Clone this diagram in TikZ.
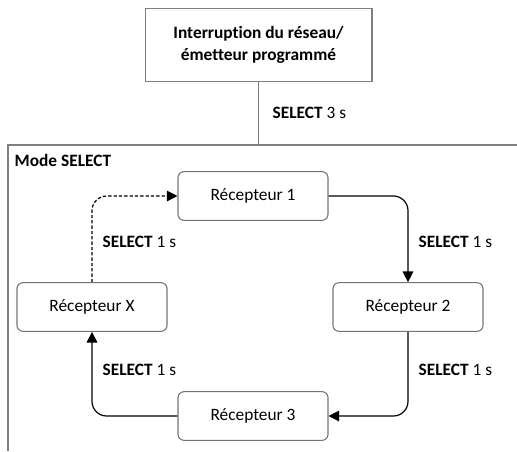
\documentclass[tikz,border=0pt]{standalone}
\usepackage{fontspec}
\setmainfont{Carlito}[Ligatures=NoCommon]
\usetikzlibrary{arrows.meta}
\begin{document}
\begin{tikzpicture}[x=0.75pt, y=-0.75pt,
  recbox/.style={draw=black!55, line width=0.8pt, rounded corners=4.5pt, minimum width=112.5pt, minimum height=36.5pt, font=\fontsize{13}{15}\selectfont},
  topbox/.style={draw=black!50, line width=1pt, minimum width=170pt, minimum height=55pt, align=center, font=\fontsize{13}{16}\selectfont\bfseries},
  step label/.style={anchor=west, font=\fontsize{13}{15}\selectfont},
  link/.style={draw=black, line width=0.9pt, rounded corners=11pt, -{Triangle[length=8pt,width=8pt]}}
]
\useasboundingbox (0,0) rectangle (517,451);
% source
\node[topbox] (src) at (258.5,45) {Interruption du réseau/\\émetteur programmé};
% mode frame
\draw[black!50, line width=1.2pt] (517,145) -- (8,145) -- (8,451);
\coordinate (ftop) at (258.5,145);
\draw[black!50, line width=1pt] (src.south) -- (ftop);
\node[step label] (l0) at (268,113) {\textbf{SELECT} 3 s};
\node[step label, font=\fontsize{13}{15}\selectfont\bfseries] (mode) at (10,160) {Mode SELECT};
% receivers
\node[recbox] (r1) at (253,196) {Récepteur 1};
\node[recbox] (r2) at (408,307) {Récepteur 2};
\node[recbox] (r3) at (253,416) {Récepteur 3};
\node[recbox] (rx) at (92,307) {Récepteur X};
% cycle
\draw[link] (r1.east) -| (r2.north);
\draw[link] (r2.south) |- (r3.east);
\draw[link] (r3.west) -| (rx.south);
\draw[link, dash pattern=on 2.5pt off 1.5pt] (rx.north) |- (r1.west);
\node[step label] (l1) at (414,242) {\textbf{SELECT} 1 s};
\node[step label] (l2) at (414,370) {\textbf{SELECT} 1 s};
\node[step label] (l3) at (98,370) {\textbf{SELECT} 1 s};
\node[step label] (l4) at (98,242) {\textbf{SELECT} 1 s};
\end{tikzpicture}
\end{document}
